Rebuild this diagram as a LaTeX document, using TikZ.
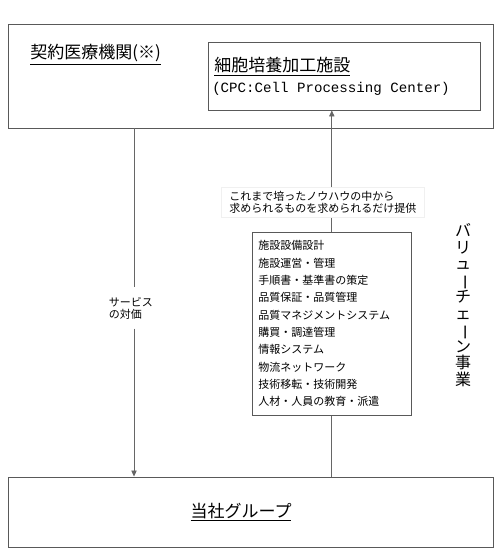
\documentclass[tikz,border=0pt]{standalone}
\usepackage{fontspec}
\setmainfont{Noto Sans CJK JP}
\newfontfamily\monofnt{Liberation Mono}
\usetikzlibrary{arrows.meta, fit}

\tikzset{
  frame/.style={draw=black!65, line width=0.7pt, inner sep=0pt},
  link/.style={draw=black!60, line width=0.6pt},
  tip/.style={-{Triangle[length=4.5pt,width=4pt]}},
  title/.style={font=\fontsize{12.75}{15}\selectfont, inner sep=0.75pt},
  small/.style={font=\fontsize{8.25}{9}\selectfont, align=left},
}
\newcommand\vbar{\smash{\rotatebox[origin=c]{-90}{ー}}}

\begin{document}
\begin{tikzpicture}[x=0.75pt,y=0.75pt,yscale=-1,xscale=1]
\useasboundingbox (0,0) rectangle (500,549);

% Boxes
\node (clinic) [frame, fit={(8,24) (493,128)}] {};
\node (cpc)    [frame, fit={(208,42) (480,110)}] {};
\node (group)  [frame, fit={(8,477) (493,547)}] {};

% Titles
\node (clinicT) [title, anchor=base west] at (29,59) {\underline{契約医療機関(※)}};
\node (cpcT)    [title, anchor=base west] at (213,72) {\underline{細胞培養加工施設}};
\node (cpcS)    [title, anchor=base west] at (211,93) {\monofnt\fontsize{10.6}{12}\selectfont (CPC:Cell Processing Center)};
\node (groupT)  [title, anchor=base] at (241,517) {\underline{当社グループ}};

% Labels on the lines
\node (svc) [small, inner xsep=2pt, inner ysep=7pt, fill=white, anchor=west] at (106,308)
  {サービス\\の対価};
\node (know) [small, draw=black!6, fill=white, inner xsep=6pt, inner ysep=3pt, anchor=north west] at (221,187)
  {これまで培ったノウハウの中から\\求められるものを求められるだけ提供};

% Value chain services
\node (tasks) [frame, anchor=north west, align=left, text width=110pt, inner xsep=4.5pt, inner ysep=5pt,
  minimum height=137pt, font=\fontsize{8.25}{13}\selectfont] at (252,232)
  {施設設備設計\\施設運営・管理\\手順書・基準書の策定\\品質保証・品質管理\\品質マネジメントシステム\\
   購買・調達管理\\情報システム\\物流ネットワーク\\技術移転・技術開発\\人材・人員の教育・派遣};

% Vertical caption
\node (chain) [align=center, font=\fontsize{12}{12.4}\selectfont, inner sep=0pt] at (463,305)
  {バ\\リ\\ュ\\\vbar\\チ\\ェ\\\vbar\\ン\\事\\業};

% Connectors
\draw[link] (clinic.south -| 134,0) -- (svc.north -| 134,0);
\draw[link, tip] (svc.south -| 134,0) -- (group.north -| 134,0);

\draw[link] (group.north -| tasks.south) -- (tasks.south);
\draw[link] (tasks.north) -- (know.south -| tasks.north);
\draw[link, tip] (know.north -| tasks.north) -- (cpc.south -| tasks.north);

\end{tikzpicture}
\end{document}
